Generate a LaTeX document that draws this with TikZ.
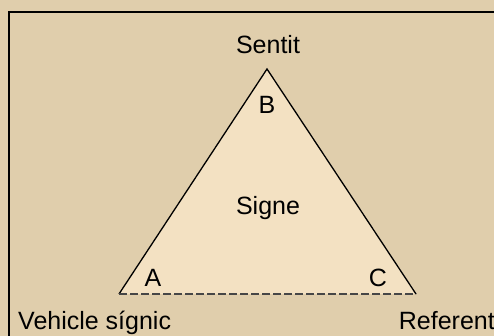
\documentclass[tikz,border=0pt]{standalone}
\usepackage{fontspec}
\setmainfont{Liberation Sans}
\definecolor{bgtan}{RGB}{224,206,172}
\definecolor{trifill}{RGB}{243,225,194}
\definecolor{dashgray}{RGB}{70,70,70}
\begin{document}
\begin{tikzpicture}[x=1pt,y=1pt,
  lbl/.style={font=\fontsize{25}{30}\selectfont, inner sep=0pt},
  side/.style={draw=black, line width=1.3pt, line join=miter}]
\useasboundingbox (0,0) rectangle (494,336);
\fill[bgtan] (0,0) rectangle (494,336);
\draw[line width=1.3pt] (9,-20) -- (9,324) -- (520,324);
\coordinate (A) at (119,42);
\coordinate (B) at (267,267);
\coordinate (C) at (416,42);
\fill[trifill] (A) -- (B) -- (C) -- cycle;
\draw[side] (A) -- (B) -- (C);
\draw[draw=dashgray, line width=1.3pt, dash pattern=on 8pt off 3pt] (A) -- (C);
\node[lbl] (sentit) at (268,291) {Sentit};
\node[lbl] (lb) at (267,231) {B};
\node[lbl] (la) at (153,58) {A};
\node[lbl] (lc) at (378,58) {C};
\node[lbl] (signe) at (268,128) {Signe};
\node[lbl, anchor=base west] (veh) at (18,6) {Vehicle sígnic};
\node[lbl, anchor=base east] (ref) at (495,6) {Referent};
\end{tikzpicture}
\end{document}
